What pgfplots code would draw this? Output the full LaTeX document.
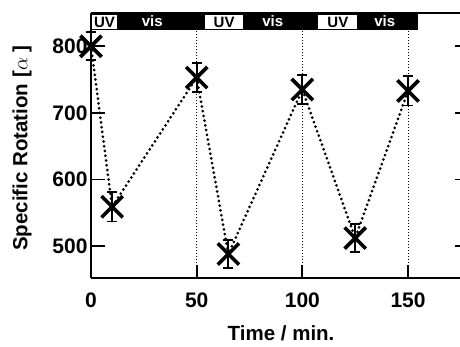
\documentclass[border=0pt]{standalone}
\usepackage{fontspec}
\setmainfont{Liberation Sans}
\usepackage{pgfplots}
\pgfplotsset{compat=1.18}
\begin{document}
\begin{tikzpicture}
\begin{axis}[
  name=ax, at={(0,0)}, anchor=south west,
  scale only axis, width=372pt, height=265pt,
  xmin=0, xmax=176, ymin=452, ymax=850,
  axis x line*=box, axis y line*=left,
  axis line style={line width=1.8pt},
  xtick={0,50,100,150}, ytick={500,600,700,800},
  tick align=inside, major tick length=14pt,
  every tick/.style={black, line width=1.8pt},
  x tick style={draw=none},
  /pgf/number format/assume math mode=true,
  tick label style={font=\fontsize{21}{24}\selectfont\bfseries},
  xticklabel style={yshift=-11pt},
  yticklabel style={xshift=0pt},
  xlabel={Time / min.}, ylabel={Specific Rotation [$\alpha$ ]},
  label style={font=\fontsize{20.5}{23}\selectfont\bfseries},
  xlabel style={at={(axis description cs:0.511,-0.208)}, anchor=center},
  ylabel style={at={(axis description cs:-0.1855,0.49)}, anchor=center},
  clip=false,
]
% top bar
\fill[black] (axis cs:0,824) rectangle (axis cs:154.5,850);
\fill[white] (axis cs:0.5,826.5) rectangle (axis cs:12.3,847.5);
\fill[white] (axis cs:54,826.5) rectangle (axis cs:72,847.5);
\fill[white] (axis cs:107.6,826.5) rectangle (axis cs:126,847.5);
\node[font=\fontsize{15}{17}\selectfont\bfseries, black] at (axis cs:6.4,836.5) {UV};
\node[font=\fontsize{15}{17}\selectfont\bfseries, black] at (axis cs:63,836.5) {UV};
\node[font=\fontsize{15}{17}\selectfont\bfseries, black] at (axis cs:116.8,836.5) {UV};
\node[font=\fontsize{15}{17}\selectfont\bfseries, white] at (axis cs:29,838.5) {vis};
\node[font=\fontsize{15}{17}\selectfont\bfseries, white] at (axis cs:86,838.5) {vis};
\node[font=\fontsize{15}{17}\selectfont\bfseries, white] at (axis cs:139,838.5) {vis};
% vertical dotted lines and bottom ticks
\pgfplotsinvokeforeach{50,100,150}{
  \draw[black, line width=0.9pt, dash pattern=on 1pt off 2pt] (axis cs:#1,452) -- (axis cs:#1,824);
  \draw[black, line width=1.8pt] (axis cs:#1,452) -- (axis cs:#1,472);
}
\draw[black, line width=1.2pt] (axis cs:0,824) -- (axis cs:0,850);
\addplot[black, line width=3pt, dash pattern=on 0pt off 4.8pt, line cap=round,
  mark=x, mark size=15pt,
  mark options={solid, line width=3.6pt, line cap=butt},
  error bars/.cd, y dir=both, y explicit,
  error bar style={line width=1.8pt, solid},
  error mark options={rotate=90, mark size=5pt, line width=1.8pt}]
  coordinates {
  (0,800) +- (0,21)
  (10,559) +- (0,22)
  (50,753) +- (0,22)
  (65,488) +- (0,21)
  (100,735) +- (0,22)
  (125,512) +- (0,21)
  (150,733) +- (0,22)
  };
\end{axis}
\begin{axis}[
  at={(0,0)}, anchor=south west,
  scale only axis, width=372pt, height=265pt,
  xmin=0, xmax=176, ymin=452, ymax=850,
  axis y line*=right, hide x axis,
  y axis line style={draw=none},
  ytick={500,600,700,800}, yticklabels={},
  tick align=inside, major tick length=8pt,
  every tick/.style={black, line width=1.8pt},
]
\addplot[draw=none] coordinates {(0,500)};
\end{axis}
\pgfresetboundingbox
\path (-91pt,-68pt) rectangle (369pt,278pt);
\end{tikzpicture}
\end{document}
